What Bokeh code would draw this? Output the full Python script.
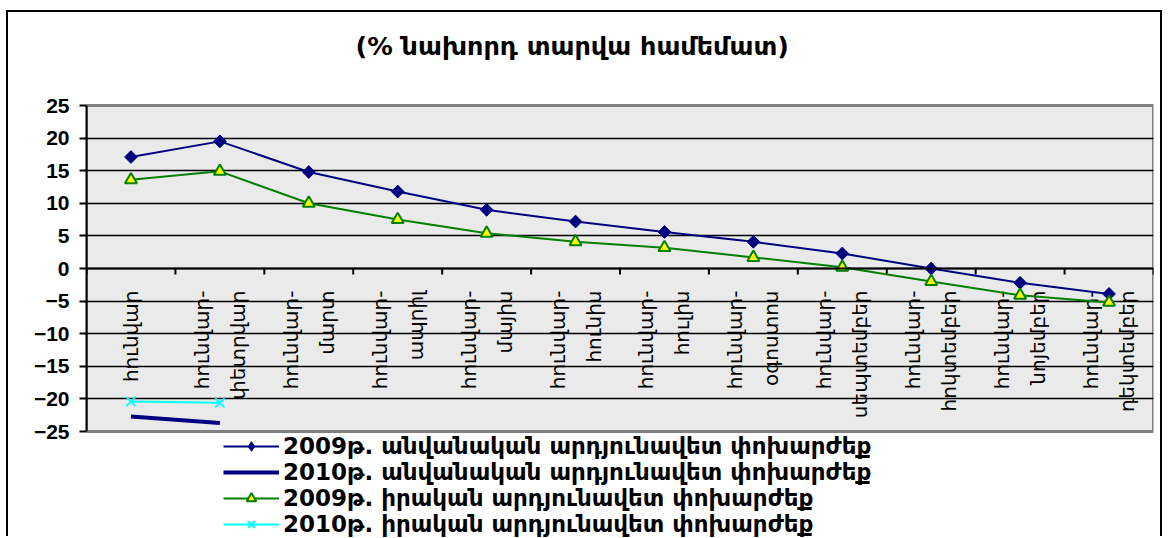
import math
from bokeh.plotting import figure
from bokeh.models import (Range1d, FixedTicker, ColumnDataSource, Legend, LegendItem,
                          Label, Span)
from bokeh.core.properties import value
from bokeh.embed import file_html
from bokeh.resources import INLINE

# ---------------- data ----------------
categories = [
    "հունվար",
    "հունվար-\nփետրվար",
    "հունվար-\nմարտ",
    "հունվար-\nապրիլ",
    "հունվար-\nմայիս",
    "հունվար-\nհունիս",
    "հունվար-\nհուլիս",
    "հունվար-\nօգոստոս",
    "հունվար-\nսեպտեմբեր",
    "հունվար-\nհոկտեմբեր",
    "հունվար-\nնոյեմբեր",
    "հունվար-\nդեկտեմբեր",
]
nominal_2009 = [17.1, 19.5, 14.8, 11.8, 9.0, 7.2, 5.6, 4.1, 2.3, 0.0, -2.2, -3.9]
nominal_2010 = [-22.7, -23.7]
real_2009 = [13.6, 14.9, 10.0, 7.5, 5.4, 4.1, 3.2, 1.7, 0.2, -2.0, -4.1, -5.2]
real_2010 = [-20.4, -20.6]
y_ticks = [25, 20, 15, 10, 5, 0, -5, -10, -15, -20, -25]
series_names = [
    "2009թ. անվանական արդյունավետ փոխարժեք",
    "2010թ. անվանական արդյունավետ փոխարժեք",
    "2009թ. իրական արդյունավետ փոխարժեք",
    "2010թ. իրական արդյունավետ փոխարժեք",
]
title_text = "(% նախորդ տարվա համեմատ)"

# ---------------- layout constants (pixels) ----------------
W, H = 1156, 526            # canvas size
LEFT, RIGHT = 78, 11        # borders around the plot area
TOP_PAD, AREA_H = 93, 326   # plot area (y from -25 to 25) sits 93px below the top
BOTTOM_PAD = H - TOP_PAD - AREA_H

n = len(categories)
xc = [i + 0.5 for i in range(n)]
y_lo, y_hi = min(y_ticks), max(y_ticks)
upp = (y_hi - y_lo) / AREA_H   # data units per pixel

p = figure(
    width=W, height=H, output_backend="svg", toolbar_location=None, title_location=None,
    x_range=Range1d(0, n),
    y_range=Range1d(y_lo - BOTTOM_PAD * upp, y_hi + TOP_PAD * upp),
    min_border_left=LEFT, min_border_right=RIGHT, min_border_top=0, min_border_bottom=0,
    x_axis_location=None,
    background_fill_color="white", border_fill_color="white",
    styles={"margin-left": "6px", "margin-top": "10px",
            "border-left": "2px solid black", "border-top": "2px solid black",
            "border-right": "2px solid black"},
)
p.outline_line_color = None

# plot-area background (gray, with gray border)
bg = p.quad(left=0, right=n, bottom=y_lo, top=y_hi, fill_color="#eaeaea",
            line_color="#808080", line_width=3)
bg.level = "image"

# y axis
p.yaxis.bounds = (y_lo, y_hi)
p.yaxis.ticker = FixedTicker(ticks=y_ticks)
p.yaxis.major_label_text_font = "Liberation Sans"
p.yaxis.major_label_text_font_style = "bold"
p.yaxis.major_label_text_font_size = "21px"
p.yaxis.major_label_text_color = "black"
p.yaxis.axis_line_color = "black"
p.yaxis.axis_line_width = 2
p.yaxis.major_tick_line_color = "black"
p.yaxis.major_tick_line_width = 2
p.yaxis.major_tick_out = 7
p.yaxis.major_tick_in = 0
p.yaxis.minor_tick_line_color = None
p.yaxis.major_label_standoff = 10

# grid
p.xgrid.visible = False
p.ygrid.ticker = FixedTicker(ticks=[t for t in y_ticks if y_lo < t < y_hi])
p.ygrid.grid_line_color = "black"
p.ygrid.grid_line_width = 1.6

# category axis at y = 0: line + boundary ticks pointing down
p.add_layout(Span(location=0, dimension="width", line_color="black", line_width=2))
p.ray(x=list(range(n + 1)), y=[0] * (n + 1), length=6, length_units="screen",
      angle=-math.pi / 2, line_color="black", line_width=2)

# category labels (rotated, hanging below the zero axis)
lab_src = ColumnDataSource(dict(x=xc, y=[0] * n, text=categories))
p.text(x="x", y="y", text="text", source=lab_src, angle=math.pi / 2,
       text_align="right", text_baseline="middle", y_offset=22,
       text_font=value("DejaVu Sans"), text_font_size="20px",
       text_line_height=1.5, text_color="black")

# series
r1l = p.line(xc, nominal_2009, line_color="#000080", line_width=2)
# diamond (sits fully under the rotated-square marker; used as the legend swatch)
r1d = p.scatter(xc, nominal_2009, marker="diamond", size=12,
                fill_color="#000080", line_color="#000080")
r1m = p.scatter(xc, nominal_2009, marker="square", size=9, angle=math.pi / 4,
                fill_color="#000080", line_color="#000080")

r2l = p.line(xc[:len(nominal_2010)], nominal_2010, line_color="#000080", line_width=4)

r3l = p.line(xc, real_2009, line_color="#008000", line_width=2)
r3m = p.scatter(xc, real_2009, marker="triangle", size=12, fill_color="#FFFF00",
                line_color="#008000", line_width=2)

r4l = p.line(xc[:len(real_2010)], real_2010, line_color="#00FFFF", line_width=2)
r4m = p.scatter(xc[:len(real_2010)], real_2010, marker="x", size=13, line_color="#00FFFF",
                line_width=2)

legend = Legend(items=[
    LegendItem(label=series_names[0], renderers=[r1l, r1d]),
    LegendItem(label=series_names[1], renderers=[r2l]),
    LegendItem(label=series_names[2], renderers=[r3l, r3m]),
    LegendItem(label=series_names[3], renderers=[r4l, r4m]),
])
legend.location = (137, 1)
legend.background_fill_color = "white"
legend.background_fill_alpha = 1
legend.border_line_color = None
legend.label_text_font = "DejaVu Sans"
legend.label_text_font_style = "bold"
legend.label_text_font_size = "23px"
legend.label_text_color = "black"
legend.label_height = 24
legend.glyph_height = 24
legend.glyph_width = 56
legend.spacing = 0
legend.padding = 0
legend.margin = 0
legend.label_standoff = 4
p.add_layout(legend, "center")

# title
p.add_layout(Label(x=269, y=H - 33, x_units="screen", y_units="screen", text=title_text,
                   text_align="left", text_baseline="middle",
                   text_font="DejaVu Sans", text_font_style="bold",
                   text_font_size="25.5px", text_color="black"))

open("out.html", "w").write(file_html(p, INLINE))
